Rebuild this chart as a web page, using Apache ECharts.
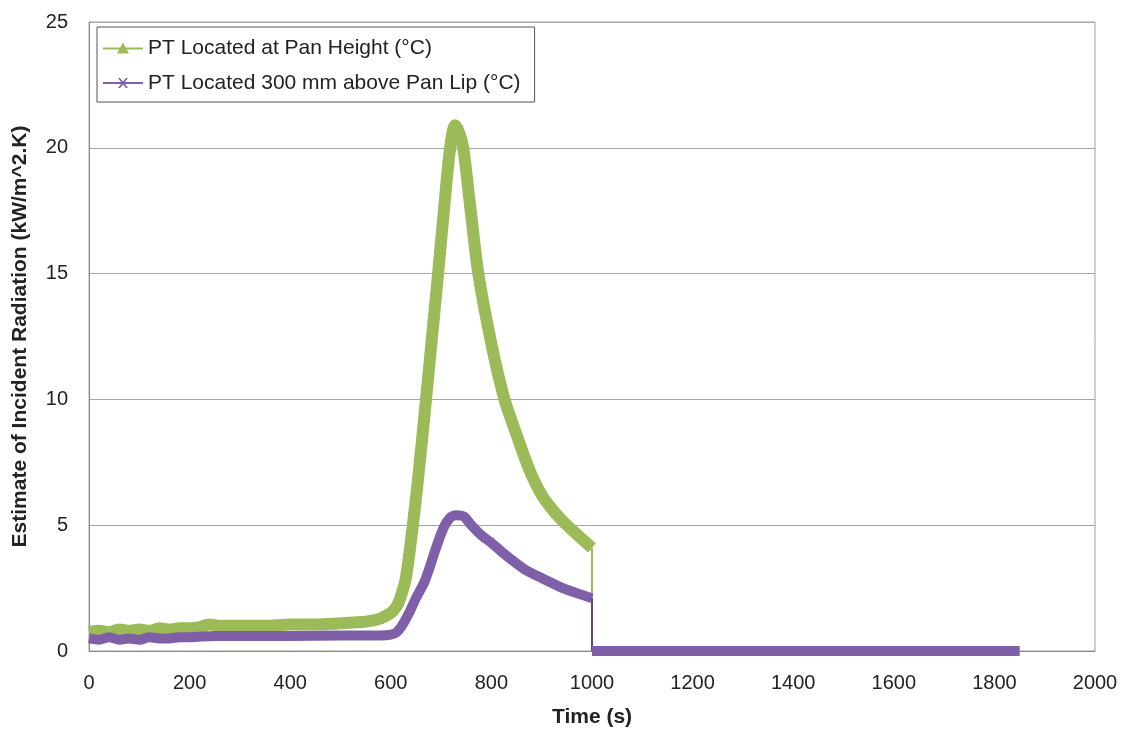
<!DOCTYPE html>
<html>
<head>
<meta charset="utf-8">
<script src="https://cdn.jsdelivr.net/npm/echarts@6/dist/echarts.min.js"></script>
<style>
html,body{margin:0;padding:0;background:#fff;}
#chart{width:1124px;height:733px;}
</style>
</head>
<body>
<div id="chart"></div>
<script>
// ---- data ----
const seriesNames = ['PT Located at Pan Height (°C)', 'PT Located 300 mm above Pan Lip (°C)'];

const greenTime = [0,20,40,60,80,100,120,140,160,180,200,220,240,260,300,350,400,450,500,540,560,580,595,605,615,622,630,642,654,670,682,694,706,718,728,736,744,760,774,800,826,850,866,882,900,920,940,958,980,1000];
const greenValue = [0.75,0.8,0.75,0.85,0.8,0.85,0.8,0.9,0.85,0.9,0.9,0.95,1.05,1.0,1.0,1.0,1.05,1.05,1.1,1.15,1.2,1.3,1.45,1.6,1.9,2.3,2.9,4.7,6.8,10.0,12.5,15.0,17.6,20.0,20.9,20.6,20.0,17.3,15.0,12.2,10.0,8.6,7.7,6.9,6.2,5.65,5.2,4.85,4.45,4.1];

const purpleTime = [0,20,40,60,80,100,120,140,160,180,200,250,300,400,500,580,600,612,622,636,650,668,690,705,718,730,745,760,780,800,820,842,870,900,942,970,1000];
const purpleValue = [0.5,0.45,0.55,0.45,0.5,0.45,0.55,0.5,0.5,0.55,0.55,0.6,0.6,0.6,0.62,0.62,0.65,0.75,1.0,1.5,2.1,2.8,4.1,4.9,5.3,5.4,5.35,5.0,4.6,4.3,3.95,3.6,3.2,2.9,2.5,2.3,2.1];

// after the sensors were switched off
const offTime = [1000, 1850];
const offValue = [0, 0];

const xTicks = {min: 0, max: 2000, interval: 200};
const yTicks = {min: 0, max: 25, interval: 5};

const GREEN = '#9BBB59';
const PURPLE = '#7F60A8';

function zip(t, v) { return t.map((x, i) => [x, v[i]]); }
const greenDrop = [[greenTime[greenTime.length-1], greenValue[greenValue.length-1]], [offTime[0], offValue[0]]];
const purpleDrop = [[purpleTime[purpleTime.length-1], purpleValue[purpleValue.length-1]], [offTime[0], offValue[0]]];

const chart = echarts.init(document.getElementById('chart'), null, {renderer: 'canvas'});
const font = 'Liberation Sans, Arial, sans-serif';

const thick = (color, w) => ({color: color, width: w, join: 'round', cap: 'butt'});

chart.setOption({
  animation: false,
  backgroundColor: '#fff',
  textStyle: {fontFamily: font},
  grid: {left: 89, right: 29, top: 22, bottom: 82, show: true, borderColor: '#a0a0a0', borderWidth: 1},
  legend: {
    orient: 'vertical',
    left: 97, top: 27,
    padding: [9, 14, 7, 6],
    itemGap: 11,
    itemWidth: 40, itemHeight: 12,
    borderColor: '#555', borderWidth: 1,
    backgroundColor: '#fff',
    textStyle: {fontFamily: font, fontSize: 21, color: '#222', lineHeight: 24},
    data: [
      {name: seriesNames[0], icon: 'path://M0,5 H40 V7 H0 Z M20,0 L26,11 L14,11 Z', itemStyle: {color: GREEN}},
      {name: seriesNames[1], icon: 'path://M0,5 H40 V7 H0 Z M15,1 L17,1 L20,4.5 L23,1 L25,1 L21.2,6 L25,11 L23,11 L20,7.5 L17,11 L15,11 L18.8,6 Z', itemStyle: {color: PURPLE}}
    ]
  },
  xAxis: {
    type: 'value',
    min: xTicks.min, max: xTicks.max, interval: xTicks.interval,
    name: 'Time (s)', nameLocation: 'middle', nameGap: 56,
    nameTextStyle: {fontFamily: font, fontSize: 21, fontWeight: 'bold', color: '#222'},
    axisLine: {show: true, lineStyle: {color: '#8c8c8c', width: 1}},
    axisTick: {show: false},
    axisLabel: {fontFamily: font, fontSize: 20, color: '#222', margin: 22, formatter: v => String(v)},
    splitLine: {show: false}
  },
  yAxis: {
    type: 'value',
    min: yTicks.min, max: yTicks.max, interval: yTicks.interval,
    name: 'Estimate of Incident Radiation (kW/m^2.K)', nameLocation: 'middle', nameGap: 58,
    nameTextStyle: {fontFamily: font, fontSize: 21, fontWeight: 'bold', color: '#222'},
    axisLine: {show: true, lineStyle: {color: '#8c8c8c', width: 1}},
    axisTick: {show: false},
    axisLabel: {fontFamily: font, fontSize: 20, color: '#222', margin: 21, formatter: v => String(v)},
    splitLine: {show: true, lineStyle: {color: '#a6a6a6', width: 1}}
  },
  series: [
    {name: seriesNames[0], type: 'line', data: zip(greenTime, greenValue), smooth: 0.3, showSymbol: false, symbol: 'none', color: GREEN, itemStyle: {color: GREEN}, lineStyle: thick(GREEN, 12), z: 2},
    {name: seriesNames[0], type: 'line', data: greenDrop, showSymbol: false, symbol: 'none', color: GREEN, itemStyle: {color: GREEN}, lineStyle: {color: GREEN, width: 2}, z: 2},
    {name: seriesNames[0], type: 'line', data: zip(offTime, offValue), showSymbol: false, symbol: 'none', color: GREEN, itemStyle: {color: GREEN}, lineStyle: thick(GREEN, 10), z: 2},
    {name: seriesNames[1], type: 'line', data: zip(purpleTime, purpleValue), smooth: 0.3, showSymbol: false, symbol: 'none', color: PURPLE, itemStyle: {color: PURPLE}, lineStyle: thick(PURPLE, 10), z: 3},
    {name: seriesNames[1], type: 'line', data: purpleDrop, showSymbol: false, symbol: 'none', color: PURPLE, itemStyle: {color: PURPLE}, lineStyle: {color: '#5f4a80', width: 2}, z: 3},
    {name: seriesNames[1], type: 'line', data: zip(offTime, offValue), showSymbol: false, symbol: 'none', color: PURPLE, itemStyle: {color: PURPLE}, lineStyle: thick(PURPLE, 10), z: 3}
  ]
});
</script>
</body>
</html>
